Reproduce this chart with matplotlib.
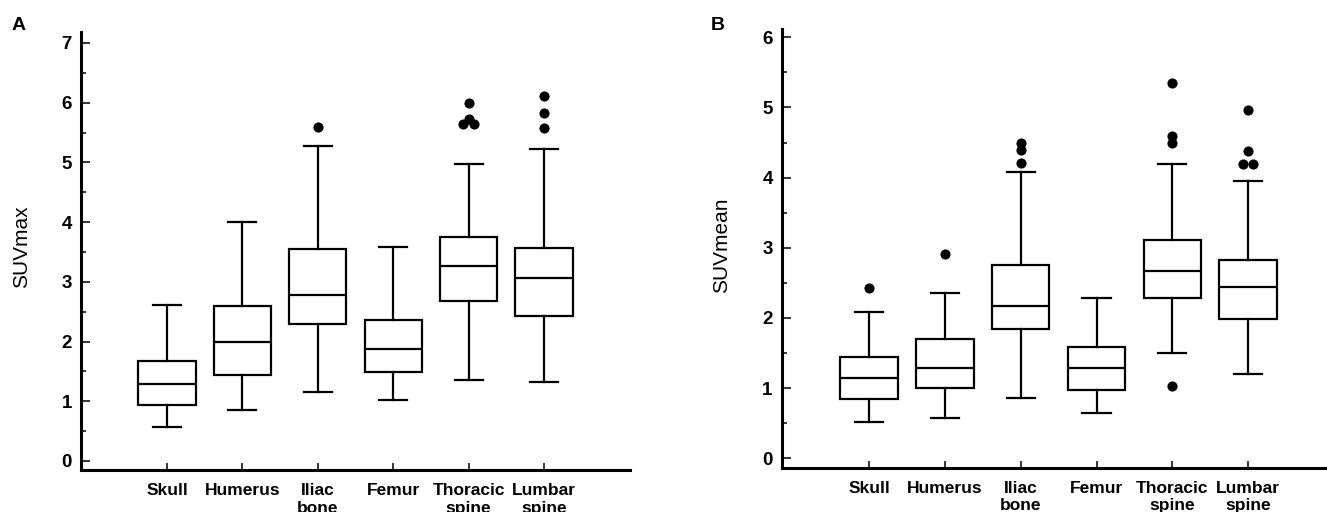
import matplotlib
matplotlib.use("Agg")
import matplotlib.pyplot as plt
from matplotlib.ticker import MultipleLocator

plt.rcParams['font.family'] = ['Liberation Sans', 'DejaVu Sans']

categories = ["Skull", "Humerus", "Iliac\nbone", "Femur", "Thoracic\nspine", "Lumbar\nspine"]

# Panel A: SUVmax
suvmax_whislo = [0.57, 0.85, 1.16, 1.02, 1.35, 1.32]
suvmax_q1 = [0.94, 1.44, 2.29, 1.49, 2.68, 2.43]
suvmax_med = [1.29, 1.99, 2.78, 1.88, 3.26, 3.07]
suvmax_q3 = [1.675, 2.60, 3.55, 2.36, 3.75, 3.56]
suvmax_whishi = [2.61, 4.00, 5.27, 3.59, 4.97, 5.23]
suvmax_outliers = [[], [], [5.60], [], [5.99, 5.72, 5.64, 5.64], [6.12, 5.82, 5.57]]

# Panel B: SUVmean
suvmean_whislo = [0.52, 0.58, 0.855, 0.64, 1.50, 1.20]
suvmean_q1 = [0.845, 1.00, 1.84, 0.97, 2.28, 1.98]
suvmean_med = [1.15, 1.29, 2.175, 1.29, 2.67, 2.44]
suvmean_q3 = [1.45, 1.70, 2.76, 1.58, 3.11, 2.83]
suvmean_whishi = [2.08, 2.36, 4.08, 2.28, 4.19, 3.95]
suvmean_outliers = [[2.42], [2.91], [4.50, 4.39, 4.21], [], [5.35, 4.60, 4.50, 1.03], [4.97, 4.38, 4.20, 4.20]]

W, H = 1327, 512
fig = plt.figure(figsize=(W / 100, H / 100), dpi=100)


def rect(l, t, r, b):
    return [l / W, 1 - b / H, (r - l) / W, (b - t) / H]


def draw(ax, lo, q1, med, q3, hi, outl, ymax, ylim, xlim):
    stats = []
    for i in range(len(categories)):
        stats.append(dict(whislo=lo[i], q1=q1[i], med=med[i], q3=q3[i], whishi=hi[i], fliers=[]))
    pos = list(range(len(categories)))
    lw = 1.6
    ax.bxp(stats, positions=pos, widths=0.76, capwidths=0.37, showfliers=False,
           patch_artist=True,
           boxprops=dict(facecolor='white', edgecolor='black', linewidth=lw),
           medianprops=dict(color='black', linewidth=lw),
           whiskerprops=dict(color='black', linewidth=lw),
           capprops=dict(color='black', linewidth=lw))
    dodge = 0.07
    for i, vals in enumerate(outl):
        groups = {}
        for v in vals:
            groups.setdefault(v, 0)
            groups[v] += 1
        for v, n in groups.items():
            for k in range(n):
                off = (k - (n - 1) / 2) * 2 * dodge
                ax.plot(pos[i] + off, v, 'o', color='black', markersize=7.3, markeredgewidth=0)
    ax.set_xlim(*xlim)
    ax.set_ylim(*ylim)
    ax.set_xticks(pos)
    ax.set_xticklabels(categories, fontsize=12.5, fontweight='bold', linespacing=1.2)
    ax.set_yticks(range(0, ymax + 1))
    ax.yaxis.set_minor_locator(MultipleLocator(0.5))
    for lab in ax.get_yticklabels():
        lab.set_fontweight('bold')
        lab.set_fontsize(13.5)
    ax.tick_params(axis='y', which='major', direction='in', length=6.5, width=1.1, pad=6.5)
    ax.tick_params(axis='y', which='minor', direction='in', length=3.8, width=1.1)
    ax.tick_params(axis='x', which='major', direction='in', length=5, width=1.1, pad=9.5)
    for s in ['top', 'right']:
        ax.spines[s].set_visible(False)
    for s in ['left', 'bottom']:
        ax.spines[s].set_linewidth(2.2)


axA = fig.add_axes(rect(81, 32, 630, 470))
draw(axA, suvmax_whislo, suvmax_q1, suvmax_med, suvmax_q3, suvmax_whishi, suvmax_outliers,
     7, (-0.151, 7.184), (-1.14, 6.14))

axB = fig.add_axes(rect(781.7, 29.3, 1327, 467.7))
draw(axB, suvmean_whislo, suvmean_q1, suvmean_med, suvmean_q3, suvmean_whishi, suvmean_outliers,
     6, (-0.134, 6.114), (-1.152, 6.04))

fig.text(22 / W, 1 - 247 / H, "SUVmax", rotation=90, ha='center', va='center', fontsize=15)
fig.text(722 / W, 1 - 245 / H, "SUVmean", rotation=90, ha='center', va='center', fontsize=15)
fig.text(12 / W, 1 - 30 / H, "A", ha='left', va='baseline', fontsize=14, fontweight='bold')
fig.text(711 / W, 1 - 30 / H, "B", ha='left', va='baseline', fontsize=14, fontweight='bold')

fig.savefig("out.png", dpi=100)
